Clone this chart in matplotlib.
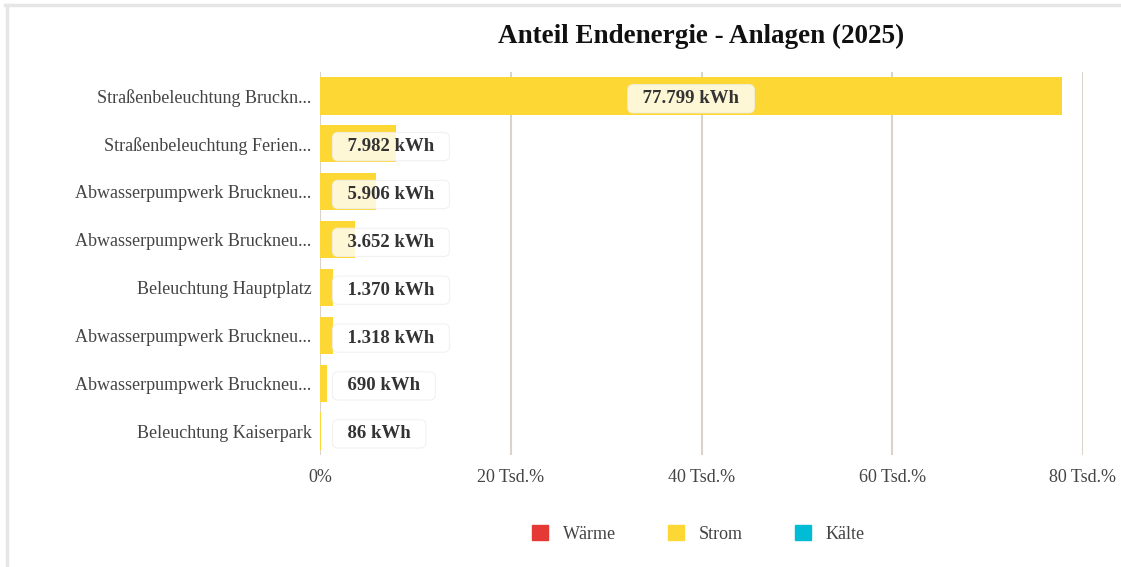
import matplotlib.pyplot as plt
from matplotlib.patches import Patch
from matplotlib.lines import Line2D

plt.rcParams['font.family'] = ['Liberation Serif', 'DejaVu Serif']

anlagen = ['Straßenbeleuchtung Bruckn...', 'Straßenbeleuchtung Ferien...',
           'Abwasserpumpwerk Bruckneu...', 'Abwasserpumpwerk Bruckneu...',
           'Beleuchtung Hauptplatz', 'Abwasserpumpwerk Bruckneu...',
           'Abwasserpumpwerk Bruckneu...', 'Beleuchtung Kaiserpark']
strom = [77799, 7982, 5906, 3652, 1370, 1318, 690, 86]
labels = ['77.799 kWh', '7.982 kWh', '5.906 kWh', '3.652 kWh',
          '1.370 kWh', '1.318 kWh', '690 kWh', '86 kWh']
xticks = [0, 20000, 40000, 60000, 80000]
xticklabels = ['0%', '20 Tsd.%', '40 Tsd.%', '60 Tsd.%', '80 Tsd.%']
legend_names = ['Wärme', 'Strom', 'Kälte']
legend_colors = ['#e53935', '#fdd835', '#00bcd4']

fig = plt.figure(figsize=(11.21, 5.67), dpi=100)
ax = fig.add_axes([0.2855, 0.1975, 0.6806, 0.6755])

pos = list(range(len(anlagen)))
ax.barh(pos, strom, height=0.78, color='#fdd835', zorder=2)

for i, (v, lab) in enumerate(zip(strom, labels)):
    box = dict(boxstyle='round,pad=0.3,rounding_size=0.3', fc='white', alpha=0.8,
               ec='#eeeeee', lw=0.8)
    txt = '  ' + lab + '  '
    if v > 20000:
        ax.annotate(txt, xy=(v / 2, i), xytext=(0, -2), textcoords='offset points',
                    ha='center', va='center', fontsize=13.5, fontweight='bold',
                    color='#333333', bbox=box, zorder=3)
    else:
        ax.annotate(txt, xy=(0, i), xytext=(13, -2), textcoords='offset points',
                    ha='left', va='center', fontsize=13.5, fontweight='bold',
                    color='#333333', bbox=box, zorder=3)

ax.set_xlim(0, 80000)
ax.set_ylim(7.5, -0.5)
ax.set_yticks(pos)
ax.set_yticklabels(anlagen, fontsize=13, color='#444444')
ax.set_xticks(xticks)
ax.set_xticklabels(xticklabels, fontsize=13, color='#444444')
ax.tick_params(axis='y', length=0, pad=6)
ax.tick_params(axis='x', length=0, pad=10)
ax.grid(axis='x', color='#d9d3c9', lw=1.5, zorder=0)
ax.set_axisbelow(True)
for s in ax.spines.values():
    s.set_visible(False)

fig.text(0.625, 0.936, 'Anteil Endenergie - Anlagen (2025)', ha='center', va='center',
         fontsize=19.5, fontweight='bold', color='#111111')

handles = [Patch(color=c, label=n) for n, c in zip(legend_names, legend_colors)]
fig.legend(handles=handles, loc='center', bbox_to_anchor=(0.623, 0.058), ncol=3,
           frameon=False, fontsize=13, handlelength=0.9, handleheight=0.9,
           handletextpad=0.8, columnspacing=2.9, labelcolor='#444444')

# light frame on left and top
fig.add_artist(Line2D([0.0058, 0.0058], [0, 0.9912], color='#e6e6e6', lw=2.5,
                      transform=fig.transFigure))
fig.add_artist(Line2D([0.0045, 1], [0.9903, 0.9903], color='#e6e6e6', lw=2.5,
                      transform=fig.transFigure))

fig.savefig('out.png', dpi=100)
